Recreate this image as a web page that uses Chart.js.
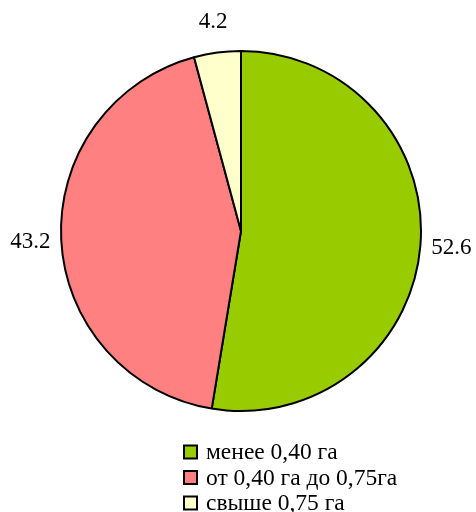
<!DOCTYPE html>
<html>
<head>
<meta charset="utf-8">
<script src="https://cdn.jsdelivr.net/npm/chart.js@4"></script>
<style>
html,body{margin:0;padding:0;background:#fff;}
#wrap{width:476px;height:512px;position:relative;}
</style>
</head>
<body>
<div id="wrap"><canvas id="c" width="476" height="512"></canvas></div>
<script>
const categories = ['менее 0,40 га', 'от 0,40 га до 0,75га', 'свыше 0,75 га'];
const values = [52.6, 43.2, 4.2];
const valueLabels = ['52.6', '43.2', '4.2'];
const colors = ['#99CC00', '#FF8080', '#FFFFCC'];

const FONT = '"Liberation Serif", "Times New Roman", serif';

const outsideLabels = {
  id: 'outsideLabels',
  afterDatasetsDraw(chart) {
    const ctx = chart.ctx;
    const meta = chart.getDatasetMeta(0);
    ctx.save();
    ctx.font = '23px ' + FONT;
    ctx.fillStyle = '#000';
    ctx.textAlign = 'center';
    ctx.textBaseline = 'middle';
    meta.data.forEach((arc, i) => {
      const mid = (arc.startAngle + arc.endAngle) / 2;
      const r = arc.outerRadius + 31;
      const x = arc.x + Math.cos(mid) * r;
      const y = arc.y + Math.sin(mid) * r;
      ctx.fillText(valueLabels[i], x, y);
    });
    ctx.restore();
  }
};

const sideLegend = {
  id: 'sideLegend',
  afterDraw(chart) {
    const ctx = chart.ctx;
    ctx.save();
    const x0 = 184, y0 = 452, step = 25.5, box = 13;
    ctx.font = '23.5px ' + FONT;
    ctx.textBaseline = 'middle';
    ctx.textAlign = 'left';
    categories.forEach((c, i) => {
      const cy = y0 + i * step;
      ctx.fillStyle = colors[i];
      ctx.fillRect(x0, cy - box / 2, box, box);
      ctx.strokeStyle = '#000';
      ctx.lineWidth = 2;
      ctx.strokeRect(x0, cy - box / 2, box, box);
      ctx.fillStyle = '#000';
      ctx.fillText(c, 206, cy + 1);
    });
    ctx.restore();
  }
};

new Chart(document.getElementById('c'), {
  type: 'pie',
  data: {
    labels: categories,
    datasets: [{
      data: values,
      backgroundColor: colors,
      borderColor: '#000',
      borderWidth: 2,
      hoverOffset: 0,
      hoverBorderWidth: 0
    }]
  },
  options: {
    responsive: false,
    animation: false,
    events: [],
    layout: { padding: { left: 60, right: 54, top: 50, bottom: 100 } },
    plugins: {
      legend: { display: false },
      tooltip: { enabled: false },
      title: { display: false }
    }
  },
  plugins: [outsideLabels, sideLegend]
});
</script>
</body>
</html>
